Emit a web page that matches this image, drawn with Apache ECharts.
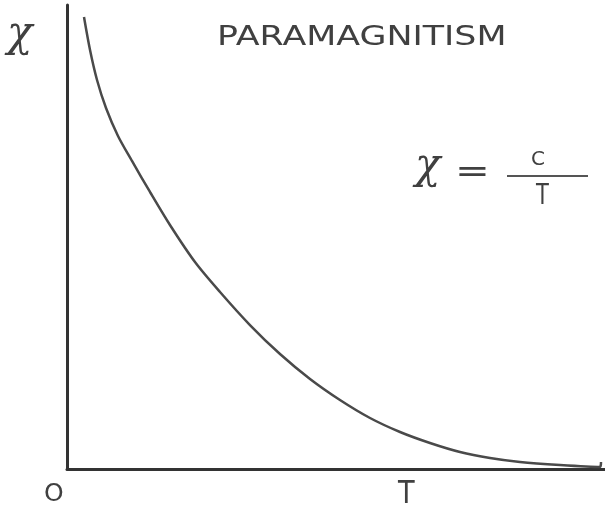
<!DOCTYPE html>
<html>
<head>
<meta charset="utf-8">
<style>
  html, body { margin: 0; padding: 0; background: #fff; }
  #chart { width: 605px; height: 515px; }
</style>
<script src="https://cdn.jsdelivr.net/npm/echarts@6/dist/echarts.min.js"></script>
</head>
<body>
<div id="chart"></div>
<script>
// Temperature (arbitrary units) and susceptibility chi = C / T, sketched curve
const temperature = [3.16, 4.28, 5.58, 7.25, 9.48, 12.08, 15.43, 19.14, 23.79, 28.44, 34.01, 39.59,
                     45.17, 50.74, 56.32, 61.90, 67.47, 73.05, 78.62, 84.20, 91.64, 99.07, 99.26];
const susceptibility = [97.41, 90.30, 83.84, 77.80, 71.77, 66.38, 59.70, 52.59, 44.61, 38.15, 31.03, 24.78,
                        19.40, 14.87, 10.99, 7.97, 5.60, 3.66, 2.37, 1.51, 0.86, 0.43, 1.51];

const titleText = 'PARAMAGNITISM';
const originLabel = 'O';
const xAxisLabel = 'T';
const yAxisLabel = 'χ';

const ink = '#404040';
const chart = echarts.init(document.getElementById('chart'));

chart.setOption({
  backgroundColor: '#ffffff',
  animation: false,
  grid: { left: 67, right: 0, top: 5, bottom: 46 },
  xAxis: {
    type: 'value', min: 0, max: 100,
    axisLine: { show: true, lineStyle: { color: '#333', width: 3 } },
    axisTick: { show: false }, axisLabel: { show: false }, splitLine: { show: false }
  },
  yAxis: {
    type: 'value', min: 0, max: 100,
    axisLine: { show: true, lineStyle: { color: '#333', width: 3 } },
    axisTick: { show: false }, axisLabel: { show: false }, splitLine: { show: false }
  },
  series: [{
    type: 'line',
    data: temperature.map((t, i) => [t, susceptibility[i]]),
    smooth: 0.3,
    showSymbol: false,
    lineStyle: { color: '#4a4a4a', width: 2.5 }
  }],
  graphic: [
    { type: 'text', left: 7, top: 14,
      style: { text: yAxisLabel, font: 'italic 42px "DejaVu Serif"', fill: ink } },
    { type: 'text', x: 217, y: 24, scaleX: 1.29,
      style: { text: titleText, font: '27px "DejaVu Sans"', fill: ink } },
    { type: 'text', left: 415, top: 146,
      style: { text: 'χ', font: 'italic 42px "DejaVu Serif"', fill: ink } },
    { type: 'text', x: 455, y: 158, scaleX: 1.3,
      style: { text: '=', font: '32px "DejaVu Sans"', fill: ink } },
    { type: 'text', left: 531, top: 150,
      style: { text: 'C', font: '20px "DejaVu Sans"', fill: ink } },
    { type: 'line', shape: { x1: 507, y1: 176, x2: 588, y2: 176 },
      style: { stroke: '#555', lineWidth: 2 } },
    { type: 'text', x: 536, y: 183, scaleX: 0.75,
      style: { text: 'T', font: '28px "DejaVu Sans"', fill: ink } },
    { type: 'text', left: 44, top: 482,
      style: { text: originLabel, font: '25px "DejaVu Sans"', fill: ink } },
    { type: 'text', x: 398, y: 479, scaleX: 0.85,
      style: { text: xAxisLabel, font: '32px "DejaVu Sans"', fill: ink } }
  ]
});
</script>
</body>
</html>
